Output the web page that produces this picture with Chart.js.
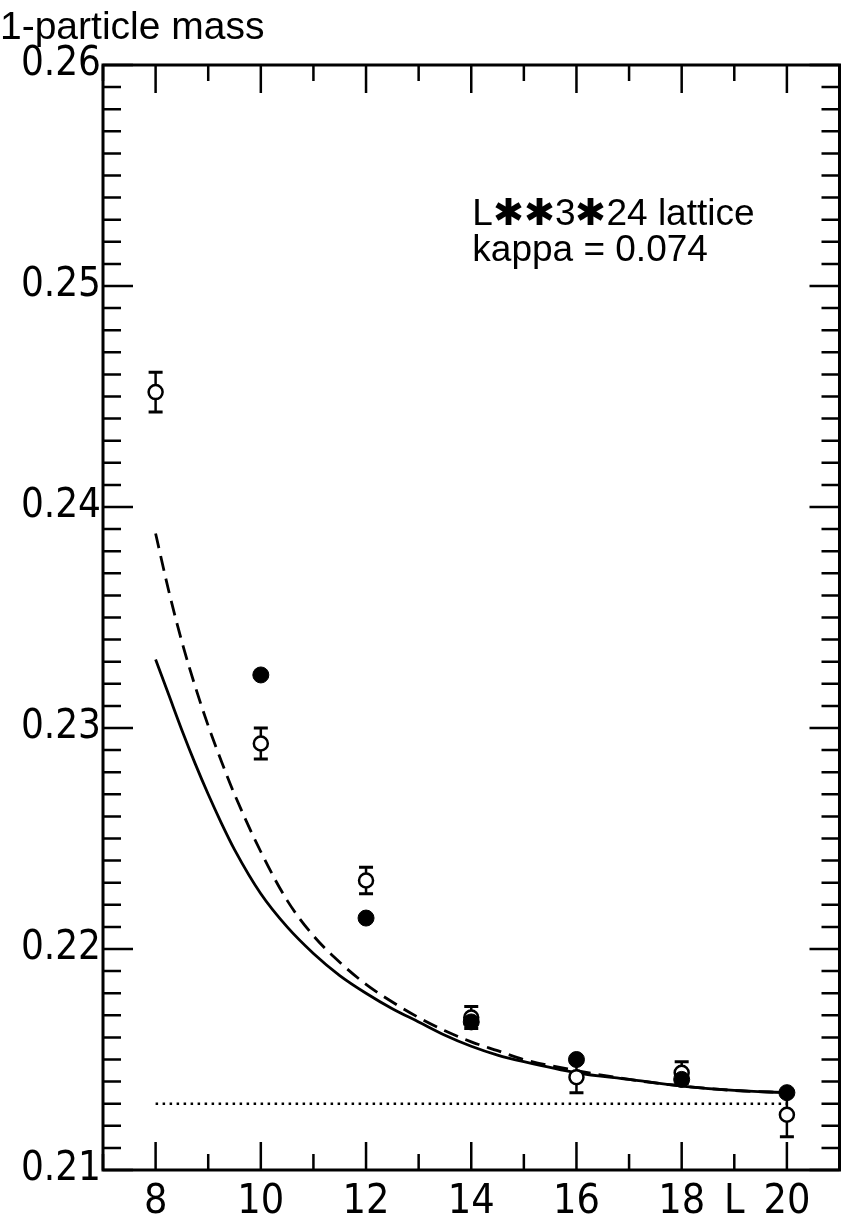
<!DOCTYPE html>
<html>
<head>
<meta charset="utf-8">
<script src="https://cdn.jsdelivr.net/npm/chart.js@4"></script>
<style>
  body { margin: 0; background: #fff; }
  canvas { display: block; }
</style>
</head>
<body>
<canvas id="grafica" width="849" height="1215"></canvas>
<script>
// open circles (with error bars)
const lOpen = [8, 10, 12, 14, 16, 18, 20]
const mOpen = [0.2452, 0.2293, 0.2231, 0.2169, 0.2142, 0.2144, 0.2125]
const errOpen = [0.0009, 0.0007, 0.0006, 0.0005, 0.0007, 0.0005, 0.0010]

// filled circles
const lFilled = [10, 12, 14, 16, 18, 20]
const mFilled = [0.2324, 0.2214, 0.2167, 0.2150, 0.2141, 0.2135]

// curves
const lCurve = [8, 8.25, 8.5, 8.75, 9, 9.25, 9.5, 10, 10.5, 11, 11.5, 12, 12.5, 13, 13.5, 14, 14.5, 15, 16, 17, 18, 19, 20]
const mSolid = [0.2331, 0.2315, 0.2299, 0.2284, 0.2270, 0.2257, 0.2245, 0.2225, 0.2210, 0.2198, 0.2188, 0.2180, 0.2173, 0.2167, 0.2161, 0.2156, 0.2152, 0.2149, 0.2144, 0.2141, 0.2138, 0.2136, 0.2135]
const mDashed = [0.2388, 0.2362, 0.2339, 0.2319, 0.2301, 0.2285, 0.2270, 0.2244, 0.2222, 0.2206, 0.2194, 0.2184, 0.2176, 0.2169, 0.2163, 0.2158, 0.2154, 0.2150, 0.2145, 0.2141, 0.2138, 0.2136, 0.2135]

// dotted limit line
const lLimit = [8, 20]
const mLimit = [0.2130, 0.2130]

const xTickLabels = {8: '8', 10: '10', 12: '12', 14: '14', 16: '16', 18: '18', 19: 'L', 20: '20'}
const yTickLabels = ['0.21', '0.22', '0.23', '0.24', '0.25', '0.26']

const yLabel = '1-particle mass'
const note1 = 'L\u2731\u27313\u273124 lattice'
const note2 = 'kappa = 0.074'

const pts = (xs, ys) => xs.map((v, i) => ({x: v, y: ys[i]}))

const labelFont = "'Liberation Sans Narrow', 'DejaVu Sans Condensed', 'Liberation Sans', sans-serif"

const errorBars = {
  id: 'errorBars',
  beforeDatasetsDraw(chart) {
    const {ctx, scales: {x, y}} = chart
    ctx.save()
    ctx.strokeStyle = '#000'
    lOpen.forEach((l, i) => {
      const px = x.getPixelForValue(l)
      const top = y.getPixelForValue(mOpen[i] + errOpen[i])
      const bot = y.getPixelForValue(mOpen[i] - errOpen[i])
      ctx.lineWidth = 2.5
      ctx.beginPath()
      ctx.moveTo(px, top); ctx.lineTo(px, bot)
      ctx.stroke()
      ctx.lineWidth = 3
      ctx.beginPath()
      ctx.moveTo(px - 7, top); ctx.lineTo(px + 7, top)
      ctx.moveTo(px - 7, bot); ctx.lineTo(px + 7, bot)
      ctx.stroke()
    })
    ctx.restore()
  }
}

const frame = {
  id: 'frame',
  afterDraw(chart) {
    const {ctx, chartArea: a, scales: {x, y}} = chart
    ctx.save()
    ctx.strokeStyle = '#000'
    ctx.lineWidth = 3
    ctx.strokeRect(a.left, a.top, a.right - a.left, a.bottom - a.top)

    // ticks pointing into the box
    ctx.lineWidth = 2.5
    ctx.beginPath()
    for (let v = 7; v <= 21; v++) {
      const px = x.getPixelForValue(v)
      const len = v % 2 === 0 ? 28 : 16
      ctx.moveTo(px, a.bottom); ctx.lineTo(px, a.bottom - len)
      ctx.moveTo(px, a.top); ctx.lineTo(px, a.top + len)
    }
    for (let k = 210; k <= 260; k++) {
      const py = y.getPixelForValue(k / 1000)
      const len = k % 10 === 0 ? 30 : 18
      ctx.moveTo(a.left, py); ctx.lineTo(a.left + len, py)
      ctx.moveTo(a.right, py); ctx.lineTo(a.right - len, py)
    }
    ctx.stroke()

    // texts
    ctx.fillStyle = '#000'
    ctx.textBaseline = 'middle'
    ctx.textAlign = 'left'
    ctx.font = "39px 'Liberation Sans', Arial, sans-serif"
    ctx.fillText(yLabel, 0, 28)
    ctx.font = "37px 'Liberation Sans', Arial, sans-serif"
    ctx.fillText(note1, x.getPixelForValue(14.02), y.getPixelForValue(0.2532))
    ctx.fillText(note2, x.getPixelForValue(14.02), y.getPixelForValue(0.2516))
    ctx.restore()
  }
}

const ctx = document.getElementById('grafica')

new Chart(ctx, {
  type: 'scatter',
  data: {
    datasets: [
      {
        label: 'filled',
        data: pts(lFilled, mFilled),
        pointRadius: 8,
        pointBackgroundColor: '#000',
        pointBorderColor: '#000',
        pointBorderWidth: 1,
        order: 0
      },
      {
        label: 'open',
        data: pts(lOpen, mOpen),
        pointRadius: 7,
        pointBackgroundColor: '#fff',
        pointBorderColor: '#000',
        pointBorderWidth: 2.5,
        order: 1
      },
      {
        type: 'line',
        label: 'solid',
        data: pts(lCurve, mSolid),
        borderColor: '#000',
        borderWidth: 2.8,
        pointRadius: 0,
        cubicInterpolationMode: 'monotone',
        fill: false,
        order: 2
      },
      {
        type: 'line',
        label: 'dashed',
        data: pts(lCurve, mDashed),
        borderColor: '#000',
        borderWidth: 2.8,
        borderDash: [15, 8],
        pointRadius: 0,
        cubicInterpolationMode: 'monotone',
        fill: false,
        order: 3
      },
      {
        type: 'line',
        label: 'limit',
        data: pts(lLimit, mLimit),
        borderColor: '#000',
        borderWidth: 2.5,
        borderDash: [2.5, 4.5],
        pointRadius: 0,
        fill: false,
        order: 4
      }
    ]
  },
  options: {
    responsive: false,
    animation: false,
    devicePixelRatio: 1,
    layout: {padding: {top: 65, right: 2, left: 0, bottom: 0}},
    plugins: {
      legend: {display: false},
      tooltip: {enabled: false}
    },
    scales: {
      x: {
        type: 'linear',
        min: 7,
        max: 21,
        afterFit: s => { s.height = 45 },
        grid: {display: false},
        border: {display: false},
        ticks: {
          stepSize: 1,
          autoSkip: false,
          maxRotation: 0,
          padding: 0,
          color: '#000',
          font: {family: labelFont, size: 41},
          callback: v => xTickLabels[v] || ''
        }
      },
      y: {
        type: 'linear',
        min: 0.21,
        max: 0.26,
        afterFit: s => { s.width = 103 },
        grid: {display: false},
        border: {display: false},
        ticks: {
          stepSize: 0.001,
          autoSkip: false,
          padding: -6,
          color: '#000',
          font: {family: labelFont, size: 40},
          callback: v => {
            const k = Math.round(v * 1000)
            return k % 10 === 0 ? yTickLabels[(k - 210) / 10] : ''
          }
        }
      }
    }
  },
  plugins: [errorBars, frame]
})
</script>
</body>
</html>
